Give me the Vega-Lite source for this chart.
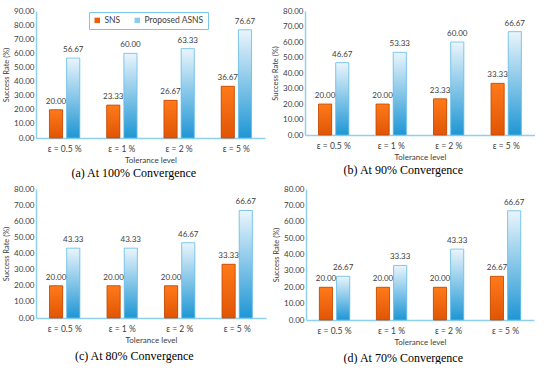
{
  "$schema": "https://vega.github.io/schema/vega-lite/v6.json",
  "padding": {"left": 2, "top": 7, "right": 0, "bottom": 0},
  "background": "white",
  "config": {
    "view": {"stroke": null},
    "font": "Lato",
    "concat": {"spacing": 6},
    "axis": {"labelColor": "#404040", "titleColor": "#404040", "grid": false, "ticks": false, "domainColor": "#8fd0ef", "domainWidth": 1.5},
    "title": {"font": "Liberation Serif", "fontSize": 12, "fontWeight": "normal", "color": "#000000", "orient": "bottom", "frame": "bounds", "anchor": "middle", "offset": 3},
    "legend": {"orient": "none", "legendY": 1, "direction": "horizontal", "strokeColor": "#7cc6ee", "padding": 4, "symbolType": "square", "symbolSize": 30, "labelFontSize": 8.5, "labelColor": "#404040", "columnPadding": 12, "labelOffset": 3}
  },
  "data": {"values": [
    {"panel": "a", "tol": "ε = 0.5 %", "series": "SNS", "value": 20.00},
    {"panel": "a", "tol": "ε = 0.5 %", "series": "Proposed ASNS", "value": 56.67},
    {"panel": "a", "tol": "ε = 1 %", "series": "SNS", "value": 23.33},
    {"panel": "a", "tol": "ε = 1 %", "series": "Proposed ASNS", "value": 60.00},
    {"panel": "a", "tol": "ε = 2 %", "series": "SNS", "value": 26.67},
    {"panel": "a", "tol": "ε = 2 %", "series": "Proposed ASNS", "value": 63.33},
    {"panel": "a", "tol": "ε = 5 %", "series": "SNS", "value": 36.67},
    {"panel": "a", "tol": "ε = 5 %", "series": "Proposed ASNS", "value": 76.67},
    {"panel": "b", "tol": "ε = 0.5 %", "series": "SNS", "value": 20.00},
    {"panel": "b", "tol": "ε = 0.5 %", "series": "Proposed ASNS", "value": 46.67},
    {"panel": "b", "tol": "ε = 1 %", "series": "SNS", "value": 20.00},
    {"panel": "b", "tol": "ε = 1 %", "series": "Proposed ASNS", "value": 53.33},
    {"panel": "b", "tol": "ε = 2 %", "series": "SNS", "value": 23.33},
    {"panel": "b", "tol": "ε = 2 %", "series": "Proposed ASNS", "value": 60.00},
    {"panel": "b", "tol": "ε = 5 %", "series": "SNS", "value": 33.33},
    {"panel": "b", "tol": "ε = 5 %", "series": "Proposed ASNS", "value": 66.67},
    {"panel": "c", "tol": "ε = 0.5 %", "series": "SNS", "value": 20.00},
    {"panel": "c", "tol": "ε = 0.5 %", "series": "Proposed ASNS", "value": 43.33},
    {"panel": "c", "tol": "ε = 1 %", "series": "SNS", "value": 20.00},
    {"panel": "c", "tol": "ε = 1 %", "series": "Proposed ASNS", "value": 43.33},
    {"panel": "c", "tol": "ε = 2 %", "series": "SNS", "value": 20.00},
    {"panel": "c", "tol": "ε = 2 %", "series": "Proposed ASNS", "value": 46.67},
    {"panel": "c", "tol": "ε = 5 %", "series": "SNS", "value": 33.33},
    {"panel": "c", "tol": "ε = 5 %", "series": "Proposed ASNS", "value": 66.67},
    {"panel": "d", "tol": "ε = 0.5 %", "series": "SNS", "value": 20.00},
    {"panel": "d", "tol": "ε = 0.5 %", "series": "Proposed ASNS", "value": 26.67},
    {"panel": "d", "tol": "ε = 1 %", "series": "SNS", "value": 20.00},
    {"panel": "d", "tol": "ε = 1 %", "series": "Proposed ASNS", "value": 33.33},
    {"panel": "d", "tol": "ε = 2 %", "series": "SNS", "value": 20.00},
    {"panel": "d", "tol": "ε = 2 %", "series": "Proposed ASNS", "value": 43.33},
    {"panel": "d", "tol": "ε = 5 %", "series": "SNS", "value": 26.67},
    {"panel": "d", "tol": "ε = 5 %", "series": "Proposed ASNS", "value": 66.67}
  ]},
  "vconcat": [
    {"hconcat": [
      {
        "width": 229, "height": 127,
        "title": "(a) At 100% Convergence",
        "transform": [{"filter": "datum.panel == 'a'"}],
        "encoding": {
          "x": {"field": "tol", "type": "nominal", "sort": ["ε = 0.5 %", "ε = 1 %", "ε = 2 %", "ε = 5 %"], "scale": {"paddingInner": 0.47, "paddingOuter": 0.235}, "axis": {"labelAngle": 0, "labelFontSize": 8.5, "labelPadding": 6, "title": "Tolerance level", "titleFontSize": 8, "titleFontWeight": "normal", "titlePadding": 4}},
          "xOffset": {"field": "series", "type": "nominal", "sort": ["SNS", "Proposed ASNS"], "scale": {"paddingInner": 0.235, "paddingOuter": 0}},
          "y": {"field": "value", "type": "quantitative", "scale": {"domain": [0, 90]}, "axis": {"values": [0, 10, 20, 30, 40, 50, 60, 70, 80, 90], "format": ".2f", "labelFontSize": 8, "title": "Success Rate (%)", "titleFontSize": 7.5, "titleFontWeight": "normal", "titlePadding": 3}}
        },
        "layer": [
          {"mark": {"type": "bar"}, "encoding": {"color": {"field": "series", "type": "nominal", "sort": ["SNS", "Proposed ASNS"], "scale": {"range": ["#ec600c", "#8ecbef"]}, "legend": {"legendX": 53, "title": null}}}},
          {"transform": [{"filter": "datum.series == 'SNS'"}], "mark": {"type": "bar", "fill": {"gradient": "linear", "x1": 0, "y1": 0, "x2": 0, "y2": 1, "stops": [{"offset": 0, "color": "#ff7a1a"}, {"offset": 1, "color": "#e05505"}]}, "stroke": "#c24a06", "strokeWidth": 0.8}},
          {"transform": [{"filter": "datum.series == 'Proposed ASNS'"}], "mark": {"type": "bar", "fill": {"gradient": "linear", "x1": 0, "y1": 0, "x2": 0, "y2": 1, "stops": [{"offset": 0, "color": "#eaf5fc"}, {"offset": 1, "color": "#1e96d4"}]}, "stroke": "#6bbfe9", "strokeWidth": 0.8}},
          {"mark": {"type": "text", "baseline": "bottom", "dy": -4, "fontSize": 8, "color": "#404040"}, "encoding": {"text": {"field": "value", "type": "quantitative", "format": ".2f"}}}
        ]
      },
      {
        "width": 230, "height": 124,
        "title": "(b) At 90% Convergence",
        "transform": [{"filter": "datum.panel == 'b'"}],
        "encoding": {
          "x": {"field": "tol", "type": "nominal", "sort": ["ε = 0.5 %", "ε = 1 %", "ε = 2 %", "ε = 5 %"], "scale": {"paddingInner": 0.47, "paddingOuter": 0.235}, "axis": {"labelAngle": 0, "labelFontSize": 8.5, "labelPadding": 6, "title": "Tolerance level", "titleFontSize": 8, "titleFontWeight": "normal", "titlePadding": 4}},
          "xOffset": {"field": "series", "type": "nominal", "sort": ["SNS", "Proposed ASNS"], "scale": {"paddingInner": 0.235, "paddingOuter": 0}},
          "y": {"field": "value", "type": "quantitative", "scale": {"domain": [0, 80]}, "axis": {"values": [0, 10, 20, 30, 40, 50, 60, 70, 80], "format": ".2f", "labelFontSize": 8, "title": "Success Rate (%)", "titleFontSize": 7.5, "titleFontWeight": "normal", "titlePadding": 3}}
        },
        "layer": [
          {"mark": {"type": "bar"}, "encoding": {"color": {"field": "series", "type": "nominal", "sort": ["SNS", "Proposed ASNS"], "scale": {"range": ["#ec600c", "#8ecbef"]}, "legend": {"legendX": 55, "title": null}}}},
          {"transform": [{"filter": "datum.series == 'SNS'"}], "mark": {"type": "bar", "fill": {"gradient": "linear", "x1": 0, "y1": 0, "x2": 0, "y2": 1, "stops": [{"offset": 0, "color": "#ff7a1a"}, {"offset": 1, "color": "#e05505"}]}, "stroke": "#c24a06", "strokeWidth": 0.8}},
          {"transform": [{"filter": "datum.series == 'Proposed ASNS'"}], "mark": {"type": "bar", "fill": {"gradient": "linear", "x1": 0, "y1": 0, "x2": 0, "y2": 1, "stops": [{"offset": 0, "color": "#eaf5fc"}, {"offset": 1, "color": "#1e96d4"}]}, "stroke": "#6bbfe9", "strokeWidth": 0.8}},
          {"mark": {"type": "text", "baseline": "bottom", "dy": -4, "fontSize": 8, "color": "#404040"}, "encoding": {"text": {"field": "value", "type": "quantitative", "format": ".2f"}}}
        ]
      }
    ]},
    {"hconcat": [
      {
        "width": 230, "height": 129,
        "title": {"text": "(c) At 80% Convergence", "offset": 6},
        "transform": [{"filter": "datum.panel == 'c'"}],
        "encoding": {
          "x": {"field": "tol", "type": "nominal", "sort": ["ε = 0.5 %", "ε = 1 %", "ε = 2 %", "ε = 5 %"], "scale": {"paddingInner": 0.47, "paddingOuter": 0.235}, "axis": {"labelAngle": 0, "labelFontSize": 8.5, "labelPadding": 6, "title": "Tolerance level", "titleFontSize": 8, "titleFontWeight": "normal", "titlePadding": 4}},
          "xOffset": {"field": "series", "type": "nominal", "sort": ["SNS", "Proposed ASNS"], "scale": {"paddingInner": 0.235, "paddingOuter": 0}},
          "y": {"field": "value", "type": "quantitative", "scale": {"domain": [0, 80]}, "axis": {"values": [0, 10, 20, 30, 40, 50, 60, 70, 80], "format": ".2f", "labelFontSize": 8, "title": "Success Rate (%)", "titleFontSize": 7.5, "titleFontWeight": "normal", "titlePadding": 3}}
        },
        "layer": [
          {"mark": {"type": "bar"}, "encoding": {"color": {"field": "series", "type": "nominal", "sort": ["SNS", "Proposed ASNS"], "scale": {"range": ["#ec600c", "#8ecbef"]}, "legend": {"legendX": 53, "title": null}}}},
          {"transform": [{"filter": "datum.series == 'SNS'"}], "mark": {"type": "bar", "fill": {"gradient": "linear", "x1": 0, "y1": 0, "x2": 0, "y2": 1, "stops": [{"offset": 0, "color": "#ff7a1a"}, {"offset": 1, "color": "#e05505"}]}, "stroke": "#c24a06", "strokeWidth": 0.8}},
          {"transform": [{"filter": "datum.series == 'Proposed ASNS'"}], "mark": {"type": "bar", "fill": {"gradient": "linear", "x1": 0, "y1": 0, "x2": 0, "y2": 1, "stops": [{"offset": 0, "color": "#eaf5fc"}, {"offset": 1, "color": "#1e96d4"}]}, "stroke": "#6bbfe9", "strokeWidth": 0.8}},
          {"mark": {"type": "text", "baseline": "bottom", "dy": -4, "fontSize": 8, "color": "#404040"}, "encoding": {"text": {"field": "value", "type": "quantitative", "format": ".2f"}}}
        ]
      },
      {
        "width": 228, "height": 131,
        "title": {"text": "(d) At 70% Convergence", "offset": 6},
        "transform": [{"filter": "datum.panel == 'd'"}],
        "encoding": {
          "x": {"field": "tol", "type": "nominal", "sort": ["ε = 0.5 %", "ε = 1 %", "ε = 2 %", "ε = 5 %"], "scale": {"paddingInner": 0.47, "paddingOuter": 0.235}, "axis": {"labelAngle": 0, "labelFontSize": 8.5, "labelPadding": 6, "title": "Tolerance level", "titleFontSize": 8, "titleFontWeight": "normal", "titlePadding": 4}},
          "xOffset": {"field": "series", "type": "nominal", "sort": ["SNS", "Proposed ASNS"], "scale": {"paddingInner": 0.235, "paddingOuter": 0}},
          "y": {"field": "value", "type": "quantitative", "scale": {"domain": [0, 80]}, "axis": {"values": [0, 10, 20, 30, 40, 50, 60, 70, 80], "format": ".2f", "labelFontSize": 8, "title": "Success Rate (%)", "titleFontSize": 7.5, "titleFontWeight": "normal", "titlePadding": 3}}
        },
        "layer": [
          {"mark": {"type": "bar"}, "encoding": {"color": {"field": "series", "type": "nominal", "sort": ["SNS", "Proposed ASNS"], "scale": {"range": ["#ec600c", "#8ecbef"]}, "legend": {"legendX": 54, "title": null}}}},
          {"transform": [{"filter": "datum.series == 'SNS'"}], "mark": {"type": "bar", "fill": {"gradient": "linear", "x1": 0, "y1": 0, "x2": 0, "y2": 1, "stops": [{"offset": 0, "color": "#ff7a1a"}, {"offset": 1, "color": "#e05505"}]}, "stroke": "#c24a06", "strokeWidth": 0.8}},
          {"transform": [{"filter": "datum.series == 'Proposed ASNS'"}], "mark": {"type": "bar", "fill": {"gradient": "linear", "x1": 0, "y1": 0, "x2": 0, "y2": 1, "stops": [{"offset": 0, "color": "#eaf5fc"}, {"offset": 1, "color": "#1e96d4"}]}, "stroke": "#6bbfe9", "strokeWidth": 0.8}},
          {"mark": {"type": "text", "baseline": "bottom", "dy": -4, "fontSize": 8, "color": "#404040"}, "encoding": {"text": {"field": "value", "type": "quantitative", "format": ".2f"}}}
        ]
      }
    ]}
  ]
}
